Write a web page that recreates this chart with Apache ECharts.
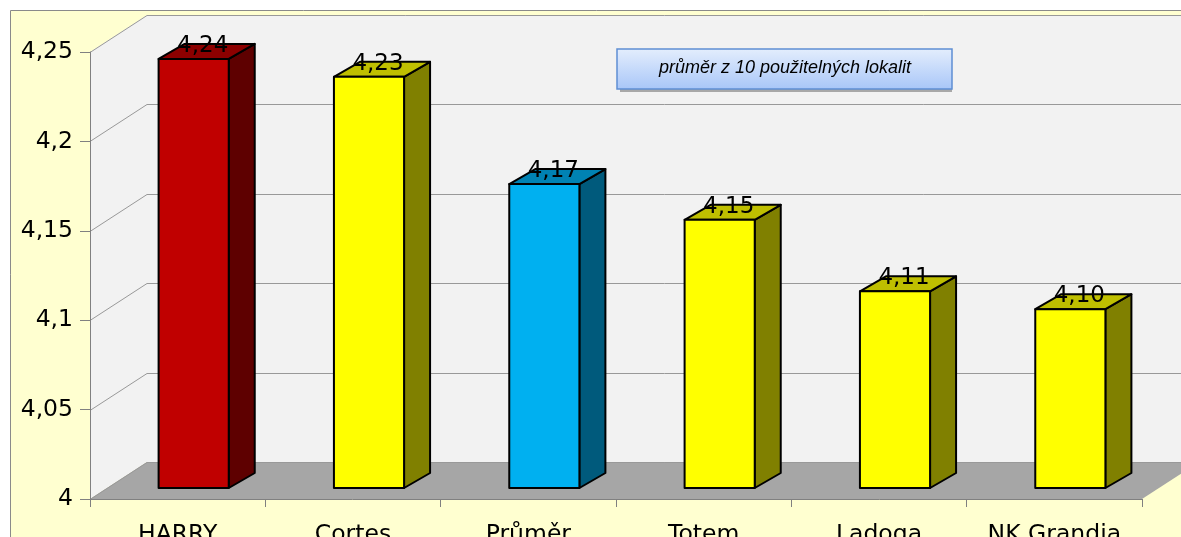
<!DOCTYPE html>
<html>
<head>
<meta charset="utf-8">
<script src="https://cdn.jsdelivr.net/npm/echarts@6/dist/echarts.min.js"></script>
<style>
  html, body { margin: 0; padding: 0; background: #fff; }
  #chart { width: 1181px; height: 537px; }
</style>
</head>
<body>
<div id="chart"></div>
<script>
// data
const categories = ['HARRY', 'Cortes', 'Průměr', 'Totem', 'Ladoga', 'NK Grandia'];
const values = [4.24, 4.23, 4.17, 4.15, 4.11, 4.10];
const yTicks = [4, 4.05, 4.1, 4.15, 4.2, 4.25];
const note = 'průměr z 10 použitelných lokalit';

// styles (one per bar)
const palette = {
  red:    { front: '#c00000', top: '#8c0000', side: '#5e0000' },
  yellow: { front: '#ffff00', top: '#bfbf00', side: '#808000' },
  blue:   { front: '#00b0f0', top: '#0082b3', side: '#005a7c' }
};
const barStyle = ['red', 'yellow', 'blue', 'yellow', 'yellow', 'yellow'];

// 3d look
const DEPTH = [57, -37];      // walls
const BAR_OFF = [16, -11];    // front face of bar inside the box
const BAR_DEPTH = [26, -15];  // bar thickness
const FONT = '"DejaVu Sans", Verdana, sans-serif';

const fmtAxis = v => String(+(+v).toFixed(2)).replace('.', ',');
const fmtLabel = v => (+v).toFixed(2).replace('.', ',');

function renderWalls(params, api) {
  const cs = params.coordSys;
  const x0 = cs.x, x1 = cs.x + cs.width;
  const yTop = cs.y, yBot = cs.y + cs.height;
  const [dx, dy] = DEPTH;
  const kids = [];
  kids.push({
    type: 'polygon',
    shape: { points: [[x0, yTop], [x0 + dx, yTop + dy], [x0 + dx, yBot + dy], [x0, yBot]] },
    style: { fill: '#f2f2f2' }
  });
  kids.push({
    type: 'rect',
    shape: { x: x0 + dx, y: yTop + dy, width: cs.width, height: cs.height },
    style: { fill: '#f2f2f2' }
  });
  kids.push({
    type: 'polygon',
    shape: { points: [[x0, yBot], [x0 + dx, yBot + dy], [x1 + dx, yBot + dy], [x1, yBot]] },
    style: { fill: '#a6a6a6' }
  });
  yTicks.forEach(t => {
    const y = Math.round(api.coord([0, t])[1]) + 0.5;
    kids.push({
      type: 'polyline',
      shape: { points: [[x0, y], [x0 + dx, y + dy], [x1 + dx, y + dy]] },
      style: { stroke: '#999', lineWidth: 1, fill: null }
    });
  });
  return { type: 'group', children: kids };
}

function renderBar(params, api) {
  const i = api.value(0);
  const v = api.value(1);
  const base = api.coord([i, yTicks[0]]);
  const top = api.coord([i, v]);
  const bw = api.size([1, 0])[0] * 0.4;
  const cx = base[0] + BAR_OFF[0];
  const xl = cx - bw / 2, xr = cx + bw / 2;
  const yb = base[1] + BAR_OFF[1], yt = top[1] + BAR_OFF[1];
  const [ddx, ddy] = BAR_DEPTH;
  const c = palette[barStyle[i]];
  const line = { stroke: '#000', lineWidth: 2, lineJoin: 'round' };
  return {
    type: 'group',
    children: [
      {
        type: 'polygon',
        shape: { points: [[xr, yt], [xr + ddx, yt + ddy], [xr + ddx, yb + ddy], [xr, yb]] },
        style: Object.assign({ fill: c.side }, line)
      },
      {
        type: 'polygon',
        shape: { points: [[xl, yt], [xl + ddx, yt + ddy], [xr + ddx, yt + ddy], [xr, yt]] },
        style: Object.assign({ fill: c.top }, line)
      },
      {
        type: 'rect',
        shape: { x: xl, y: yt, width: bw, height: yb - yt },
        style: Object.assign({ fill: c.front }, line)
      },
      {
        type: 'text',
        style: {
          text: fmtLabel(v), x: cx + 9, y: yt - 13,
          align: 'center', verticalAlign: 'middle',
          font: '23px ' + FONT, fill: '#000'
        }
      }
    ]
  };
}

const chart = echarts.init(document.getElementById('chart'));

chart.setOption({
  backgroundColor: '#fff',
  animation: false,
  grid: { left: 90, top: 52, right: 39, bottom: 38, outerBoundsMode: 'none' },
  xAxis: {
    type: 'category',
    data: categories,
    z: 5,
    axisLine: { lineStyle: { color: '#808080', width: 1 } },
    axisTick: { show: true, length: 8, lineStyle: { color: '#808080' } },
    axisLabel: { interval: 0, fontSize: 23.5, fontFamily: FONT, color: '#000', margin: 24 },
    splitLine: { show: false }
  },
  yAxis: {
    type: 'value',
    min: 4,
    max: 4.25,
    interval: 0.05,
    z: 5,
    axisLine: { show: true, lineStyle: { color: '#808080', width: 1 } },
    axisTick: { show: true, length: 10, lineStyle: { color: '#808080' } },
    axisLabel: { formatter: fmtAxis, fontSize: 23.5, fontFamily: FONT, color: '#000', margin: 17 },
    splitLine: { show: false }
  },
  graphic: [
    {
      type: 'rect', z: -10, silent: true,
      shape: { x: 10.5, y: 10.5, width: 1400, height: 800 },
      style: { fill: '#ffffd0', stroke: '#8a8a8a', lineWidth: 1 }
    },
    {
      type: 'rect', z: 100, silent: true,
      shape: { x: 620, y: 52, width: 332, height: 40 },
      style: { fill: '#a8a8a8' }
    },
    {
      type: 'rect', z: 101, silent: true,
      shape: { x: 617, y: 49, width: 335, height: 40 },
      style: {
        fill: new echarts.graphic.LinearGradient(0, 0, 0, 1, [
          { offset: 0, color: '#e4eefd' },
          { offset: 1, color: '#a8c6f8' }
        ]),
        stroke: '#5f8fd3', lineWidth: 1.5
      }
    },
    {
      type: 'text', z: 102, silent: true,
      style: {
        text: note, x: 785, y: 68, align: 'center', verticalAlign: 'middle',
        font: 'italic 18px "Liberation Sans", Arial, sans-serif', fill: '#000'
      }
    }
  ],
  series: [
    {
      type: 'custom',
      z: 1,
      silent: true,
      clip: false,
      renderItem: renderWalls,
      data: [[0, yTicks[0]]]
    },
    {
      type: 'custom',
      z: 3,
      silent: true,
      clip: false,
      renderItem: renderBar,
      data: values.map((v, i) => [i, v])
    }
  ]
});
</script>
</body>
</html>
